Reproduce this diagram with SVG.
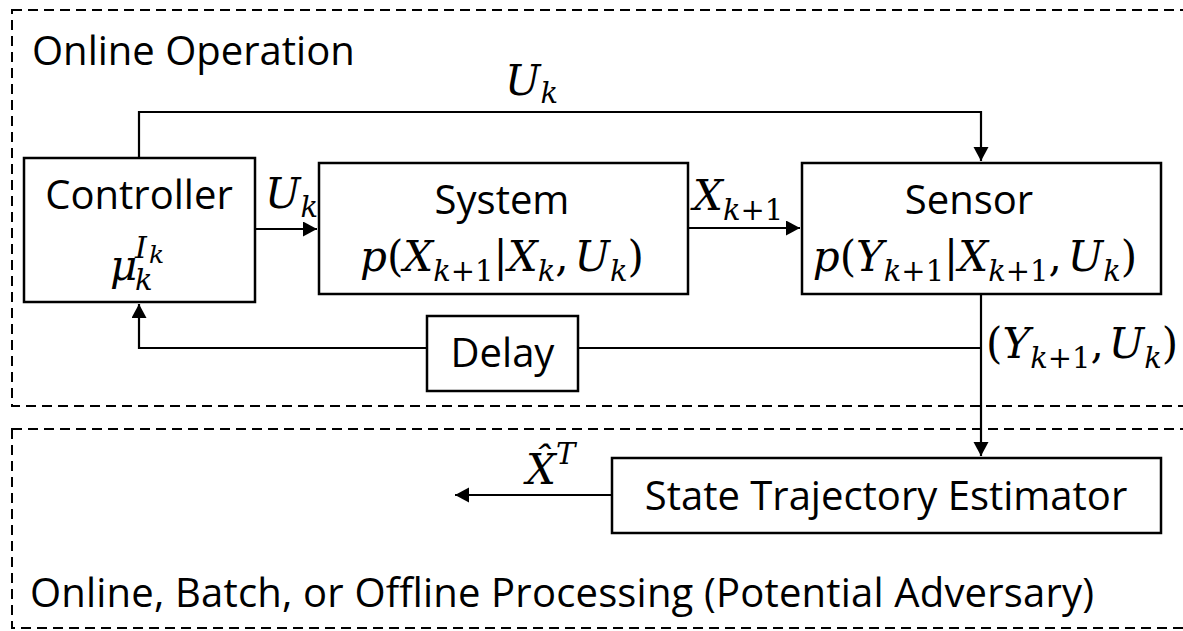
<svg xmlns="http://www.w3.org/2000/svg" width="1183" height="631" viewBox="0 0 1183 631">
<style>
.t{font-family:"Open Sans","Noto Sans","Liberation Sans",sans-serif;font-size:40px;fill:#000}
.m{font-family:"DejaVu Serif","Liberation Serif",serif;font-style:italic;font-size:42px;fill:#000}
.r{font-style:normal}
.sb{font-size:29px}
.sp{font-size:30px}
.ss{font-size:25px}
.box{fill:#fff;stroke:#000;stroke-width:2.5}
.region{fill:none;stroke:#000;stroke-width:2;stroke-dasharray:10 6}
.c{fill:none;stroke:#000;stroke-width:2.2}
</style>
<defs>
<marker id="ah" markerUnits="userSpaceOnUse" markerWidth="16" markerHeight="16" refX="14" refY="7.5" orient="auto">
<path d="M0,0 L14,7.5 L0,15 z" fill="#000"/>
</marker>
</defs>
<rect id="region-online" class="region" x="12" y="10" width="1190" height="396"/>
<rect id="region-offline" class="region" x="12" y="429" width="1190" height="199"/>
<text class="t" x="32" y="65">Online Operation</text>
<text class="t" x="30" y="607" textLength="1064" lengthAdjust="spacing">Online, Batch, or Offline Processing (Potential Adversary)</text>
<g id="connectors">
<path class="c" d="M139,158 V112 H981 V161" marker-end="url(#ah)"/>
<path class="c" d="M255,229 H317" marker-end="url(#ah)"/>
<path class="c" d="M688,228 H800" marker-end="url(#ah)"/>
<path class="c" d="M981,294 V456" marker-end="url(#ah)"/>
<path class="c" d="M981,348 H578"/>
<path class="c" d="M427,348 H139 V304" marker-end="url(#ah)"/>
<path class="c" d="M612,495 H455" marker-end="url(#ah)"/>
<text class="m" x="505" y="95">U<tspan class="sb" dy="8">k</tspan></text>
<text class="m" x="265" y="208">U<tspan class="sb" dy="9">k</tspan></text>
<text class="m" x="693" y="210">X<tspan class="sb" dy="10">k</tspan><tspan class="sb r">+1</tspan></text>
<text class="m" x="986" y="358"><tspan class="r">(</tspan>Y<tspan class="sb" dy="10">k</tspan><tspan class="sb r">+1</tspan><tspan class="r" dy="-10">,</tspan><tspan dx="5">U</tspan><tspan class="sb" dy="10">k</tspan><tspan class="r" dy="-10">)</tspan></text>
<text class="m" x="526" y="484">X&#770;<tspan class="sb" dy="-20">T</tspan></text>
</g>
<g id="controller">
<rect class="box" x="24" y="158" width="231" height="144"/>
<text class="t" x="139" y="209" text-anchor="middle">Controller</text>
<text class="m" x="110" y="280">μ<tspan class="sb" x="135" y="290">k</tspan><tspan class="sp" x="135" y="258">I</tspan><tspan class="ss" x="149" y="263">k</tspan></text>
</g>
<g id="system">
<rect class="box" x="319" y="163" width="369" height="131"/>
<text class="t" x="502" y="214" text-anchor="middle">System</text>
<text class="m" x="502" y="271" text-anchor="middle">p<tspan class="r">(</tspan>X<tspan class="sb" dy="10">k</tspan><tspan class="sb r">+1</tspan><tspan class="r" dy="-10">|</tspan>X<tspan class="sb" dy="10">k</tspan><tspan class="r" dy="-10">,</tspan><tspan dx="6">U</tspan><tspan class="sb" dy="10">k</tspan><tspan class="r" dy="-10">)</tspan></text>
</g>
<g id="sensor">
<rect class="box" x="802" y="163" width="359" height="131"/>
<text class="t" x="969" y="214" text-anchor="middle">Sensor</text>
<text class="m" x="975" y="271" text-anchor="middle">p<tspan class="r">(</tspan>Y<tspan class="sb" dy="10">k</tspan><tspan class="sb r">+1</tspan><tspan class="r" dy="-10">|</tspan>X<tspan class="sb" dy="10">k</tspan><tspan class="sb r">+1</tspan><tspan class="r" dy="-10">,</tspan><tspan dx="6">U</tspan><tspan class="sb" dy="10">k</tspan><tspan class="r" dy="-10">)</tspan></text>
</g>
<g id="delay">
<rect class="box" x="427" y="316" width="151" height="75"/>
<text class="t" x="502.5" y="367" text-anchor="middle">Delay</text>
</g>
<g id="estimator">
<rect class="box" x="612" y="458" width="549" height="75"/>
<text class="t" x="886" y="510" text-anchor="middle">State Trajectory Estimator</text>
</g>
</svg>
